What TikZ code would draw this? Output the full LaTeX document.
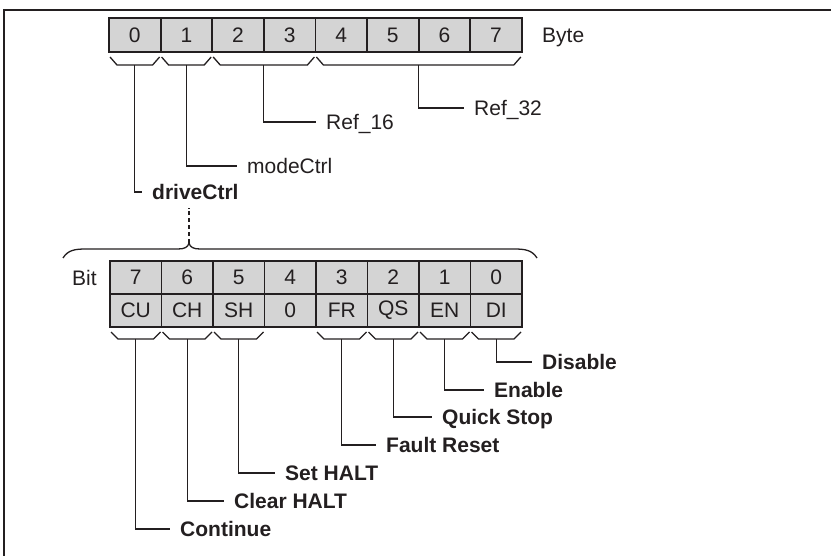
\documentclass[tikz,border=0pt]{standalone}
\usepackage{fontspec}
\setmainfont{Liberation Sans}
\usetikzlibrary{calc}
\definecolor{linec}{RGB}{35,31,32}
\definecolor{cellgray}{RGB}{212,212,212}
\begin{document}
\begin{tikzpicture}[x=1pt,y=-1pt,
  every node/.style={font=\fontsize{21}{25}\selectfont, text=linec},
  cell/.style={draw=linec, fill=cellgray, line width=1.8pt, minimum width=51.6pt, minimum height=34pt, inner sep=0pt, outer sep=0pt},
  bcell/.style={cell, minimum width=51.5pt, minimum height=33pt},
  lab/.style={anchor=west, inner sep=0pt, text height=15pt, text depth=0pt},
  blab/.style={lab, font=\fontsize{21}{25}\selectfont\bfseries},
  conn/.style={draw=linec, line width=1.3pt},
  lead/.style={conn, shorten >=10pt}]
\useasboundingbox (0,0) rectangle (831,556);
\draw[conn] (4,556) -- (4,10) -- (831,10);

% byte table
\foreach \i in {0,...,7} \node[cell] (b\i) at ({109+51.6*(\i+0.5)},35) {\i};
\node[lab] (byte) at (542,35) {Byte};

% bit table
\foreach \k in {0,...,7} \node[bcell] (t\k) at ({110+51.5*(7-\k+0.5)},277.5) {\k};
\foreach \k/\t in {7/CU,6/CH,5/SH,4/0,3/FR,2/QS,1/EN,0/DI}
  \node[bcell] (r\k) at ({110+51.5*(7-\k+0.5)},310.5) {\t};
\node[lab] (bit) at (72,278) {Bit};

% braces under byte table
\foreach \l/\r/\m in {b0/b0/m0,b1/b1/m1,b2/b3/m23,b4/b7/m47}{
  \draw[conn] ([shift={(1,5)}]\l.south west) -- ([shift={(8,13)}]\l.south west)
     -- ([shift={(-8,13)}]\r.south east) -- ([shift={(-1,5)}]\r.south east);
  \coordinate (\m) at ($(\l.south west)!0.5!(\r.south east)+(0,13)$);
}
% braces under bit table
\foreach \k in {7,6,5,3,2,1,0}{
  \draw[conn] ([shift={(1,5)}]r\k.south west) -- ([shift={(8,12)}]r\k.south west)
     -- ([shift={(-8,12)}]r\k.south east) -- ([shift={(-1,5)}]r\k.south east);
  \coordinate (n\k) at ($(r\k.south west)!0.5!(r\k.south east)+(0,12)$);
}

% byte labels
\node[lab] (ref32) at (474,108) {Ref\_32};
\node[lab] (ref16) at (326,122) {Ref\_16};
\node[lab] (mode) at (247,166) {modeCtrl};
\node[blab] (drive) at (152,192) {driveCtrl};
\draw[lead] (m47) |- (ref32.west);
\draw[lead] (m23) |- (ref16.west);
\draw[lead] (m1) |- (mode.west);
\draw[lead] (m0) |- (drive.west);

% big brace
\coordinate (tip) at (189,243);
\draw[conn] (63,258) .. controls (68,250) and (75,249) .. (86,249) -- (178,249)
  .. controls (185,249) and (188,247) .. (tip)
  .. controls (190,247) and (193,249) .. (200,249) -- (514,249)
  .. controls (525,249) and (532,250) .. (537,258);
\draw[conn, dash pattern=on 4pt off 3pt, shorten >=8pt] (tip) -- (tip |- drive.south);

% bit labels
\node[blab] (dis) at (542,362) {Disable};
\node[blab] (ena) at (494,390) {Enable};
\node[blab] (qs) at (442,417) {Quick Stop};
\node[blab] (fr) at (386,445) {Fault Reset};
\node[blab] (sh) at (285,473) {Set HALT};
\node[blab] (ch) at (234,501) {Clear HALT};
\node[blab] (cu) at (180,529) {Continue};
\draw[lead] (n0) |- (dis.west);
\draw[lead] (n1) |- (ena.west);
\draw[lead] (n2) |- (qs.west);
\draw[lead] (n3) |- (fr.west);
\draw[lead] (n5) |- (sh.west);
\draw[lead] (n6) |- (ch.west);
\draw[lead] (n7) |- (cu.west);
\end{tikzpicture}
\end{document}
